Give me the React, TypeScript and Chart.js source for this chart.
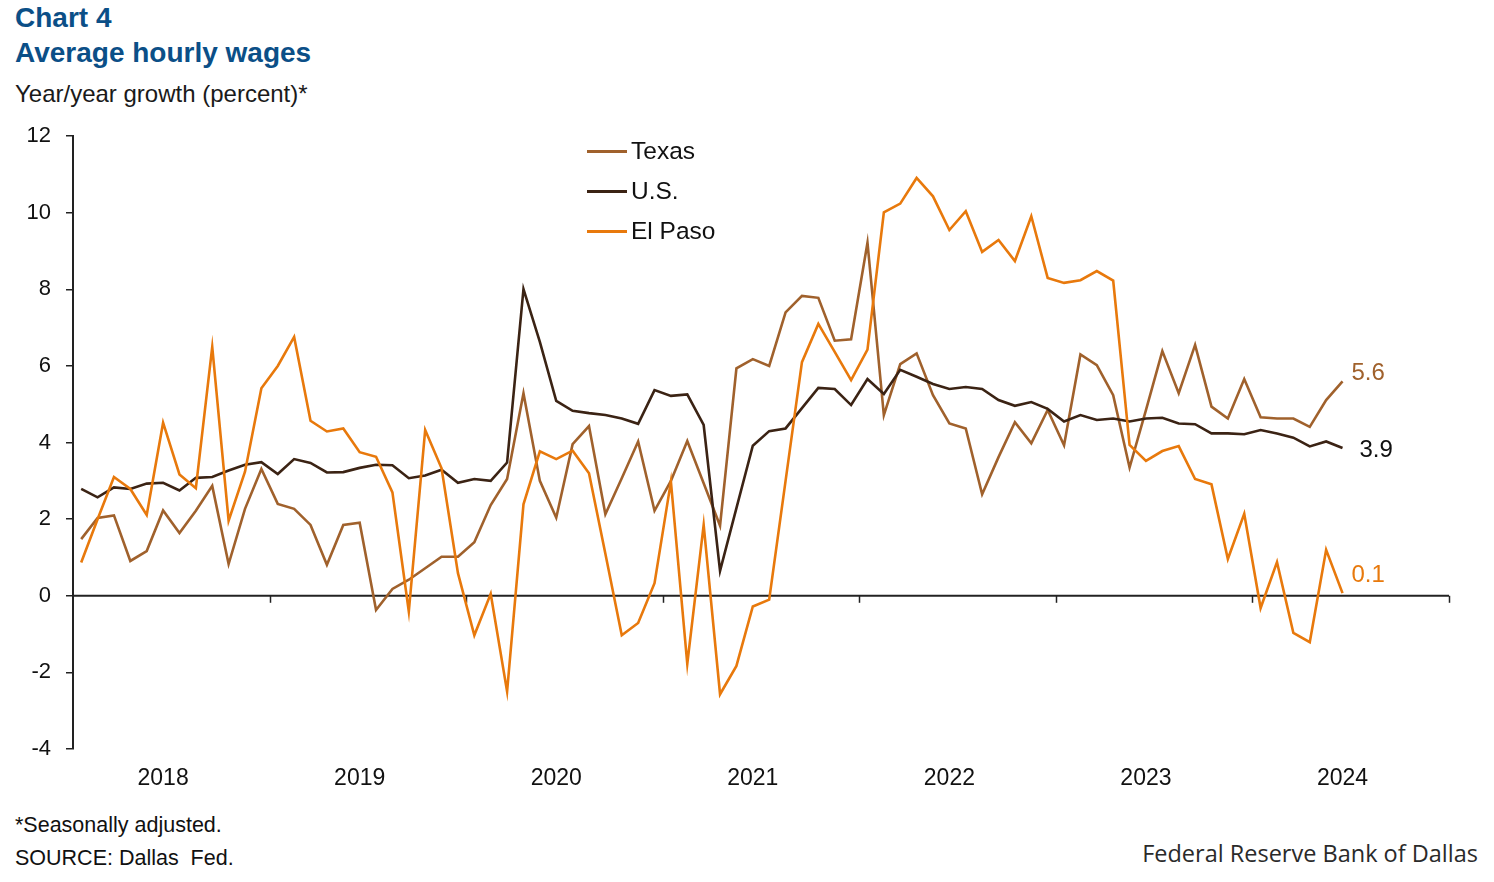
import React, { useEffect, useRef } from "react";
import { Chart, registerables } from "chart.js";

Chart.register(...registerables);

// Monthly data, Jan 2018 – Jun 2024 (year/year % growth)
const years = ["2018", "2019", "2020", "2021", "2022", "2023", "2024"];
const monthsPerYear = 12;

const texas = [
  1.48, 2.03, 2.1, 0.91, 1.17, 2.23, 1.64, 2.22, 2.87, 0.83, 2.27, 3.31,
  2.4, 2.27, 1.85, 0.81, 1.85, 1.91, -0.37, 0.18, 0.42, 0.72, 1.02, 1.02,
  1.4, 2.37, 3.05, 5.29, 3.0, 2.04, 3.96, 4.43, 2.13, 3.07, 4.03, 2.22,
  3.0, 4.04, 2.94, 1.83, 5.94, 6.18, 6.0, 7.4, 7.83, 7.78, 6.66, 6.7,
  9.22, 4.72, 6.05, 6.33, 5.24, 4.5, 4.37, 2.65, 3.62, 4.53, 3.98, 4.85,
  3.93, 6.3, 6.02, 5.24, 3.35, 4.85, 6.39, 5.29, 6.55, 4.94, 4.63, 5.66,
  4.66, 4.63, 4.63, 4.41, 5.11, 5.6,
];

const us = [
  2.79, 2.57, 2.83, 2.79, 2.93, 2.95, 2.75, 3.08, 3.1, 3.27, 3.42, 3.49,
  3.18, 3.57, 3.47, 3.22, 3.23, 3.34, 3.42, 3.41, 3.07, 3.14, 3.29, 2.95,
  3.05, 3.0, 3.48, 8.01, 6.63, 5.09, 4.83, 4.77, 4.72, 4.63, 4.49, 5.37,
  5.22, 5.26, 4.46, 0.65, 2.29, 3.92, 4.3, 4.37, 4.9, 5.43, 5.4, 4.98,
  5.66, 5.27, 5.9, 5.72, 5.53, 5.4, 5.45, 5.4, 5.11, 4.96, 5.06, 4.88,
  4.55, 4.72, 4.59, 4.63, 4.55, 4.63, 4.65, 4.5, 4.48, 4.24, 4.24, 4.22,
  4.33, 4.24, 4.13, 3.9, 4.03, 3.86,
];

const elPaso = [
  0.87, 2.0, 3.1, 2.79, 2.11, 4.52, 3.17, 2.81, 6.5, 1.96, 3.24, 5.42,
  6.0, 6.76, 4.57, 4.29, 4.37, 3.75, 3.63, 2.7, -0.41, 4.33, 3.33, 0.59,
  -1.03, 0.05, -2.5, 2.39, 3.77, 3.57, 3.79, 3.2, 1.1, -1.03, -0.71, 0.33,
  2.98, -1.78, 1.85, -2.57, -1.83, -0.28, -0.1, 3.0, 6.1, 7.1, 6.37, 5.63,
  6.43, 10.01, 10.24, 10.91, 10.43, 9.55, 10.04, 8.98, 9.29, 8.74, 9.91, 8.3,
  8.17, 8.24, 8.48, 8.23, 3.94, 3.52, 3.78, 3.91, 3.05, 2.91, 0.96, 2.14,
  -0.32, 0.88, -0.97, -1.21, 1.2, 0.07,
];

const yTicks = [-4, -2, 0, 2, 4, 6, 8, 10, 12];

const seriesNames = ["Texas", "U.S.", "El Paso"];
const seriesColors = ["#a0612c", "#3b2314", "#e8790c"];
const endLabelColors = ["#a0612c", "#111111", "#e8790c"];

const FONT = "'Liberation Sans', Arial, sans-serif";
const LABEL_POS = 5.5; // year label sits at the middle month of each year

const toPoints = (arr: number[]) => arr.map((v, i) => ({ x: i + 0.5, y: v }));

const axisPlugin = {
  id: "zeroAxis",
  beforeDatasetsDraw(chart: any) {
    const { ctx, chartArea, scales } = chart;
    const y0 = scales.y.getPixelForValue(0);
    ctx.save();
    ctx.strokeStyle = "#222222";
    ctx.lineWidth = 2;
    ctx.beginPath();
    ctx.moveTo(chartArea.left, y0);
    ctx.lineTo(chartArea.right, y0);
    ctx.stroke();
    ctx.lineWidth = 1.5;
    for (let k = 1; k <= years.length; k++) {
      const px = Math.round(scales.x.getPixelForValue(k * monthsPerYear)) + 0.5;
      ctx.beginPath();
      ctx.moveTo(px, y0);
      ctx.lineTo(px, y0 + 7);
      ctx.stroke();
    }
    ctx.restore();
  },
  afterDatasetsDraw(chart: any) {
    const { ctx, scales } = chart;
    const offsets = [
      { dx: 9, dy: -8 },
      { dx: 17, dy: 2 },
      { dx: 9, dy: -18 },
    ];
    const all = [texas, us, elPaso];
    ctx.save();
    ctx.font = `24px ${FONT}`;
    ctx.textBaseline = "middle";
    ctx.textAlign = "left";
    all.forEach((arr, si) => {
      const last = arr.length - 1;
      const px = scales.x.getPixelForValue(last + 0.5);
      const py = scales.y.getPixelForValue(arr[last]);
      ctx.fillStyle = endLabelColors[si];
      ctx.fillText(arr[last].toFixed(1), px + offsets[si].dx, py + offsets[si].dy);
    });
    ctx.restore();
  },
};

function ChartCanvas() {
  const ref = useRef<HTMLCanvasElement | null>(null);
  useEffect(() => {
    if (!ref.current) return;
    const chart = new Chart(ref.current, {
      type: "line",
      data: {
        datasets: [
          {
            label: seriesNames[0],
            data: toPoints(texas),
            borderColor: seriesColors[0],
            borderWidth: 2.6,
            pointRadius: 0,
            tension: 0,
            order: 2,
          },
          {
            label: seriesNames[1],
            data: toPoints(us),
            borderColor: seriesColors[1],
            borderWidth: 2.6,
            pointRadius: 0,
            tension: 0,
            order: 1,
          },
          {
            label: seriesNames[2],
            data: toPoints(elPaso),
            borderColor: seriesColors[2],
            borderWidth: 2.6,
            pointRadius: 0,
            tension: 0,
            order: 0,
          },
        ],
      },
      options: {
        animation: false,
        responsive: false,
        maintainAspectRatio: false,
        layout: { padding: { left: 0, right: 45, top: 13, bottom: 0 } },
        plugins: {
          legend: { display: false },
          tooltip: { enabled: false },
        },
        scales: {
          x: {
            type: "linear",
            min: 0,
            max: years.length * monthsPerYear,
            border: { display: false },
            grid: { display: false, drawTicks: false },
            afterBuildTicks: (scale: any) => {
              scale.ticks = years.map((_, i) => ({ value: i * monthsPerYear + LABEL_POS }));
            },
            afterFit: (scale: any) => {
              scale.height = 52;
            },
            ticks: {
              autoSkip: false,
              maxRotation: 0,
              padding: 16,
              color: "#111111",
              font: { family: FONT, size: 23 },
              callback: (value: any) => {
                const idx = Math.round((Number(value) - LABEL_POS) / monthsPerYear);
                return years[idx] ?? "";
              },
            },
          },
          y: {
            min: yTicks[0],
            max: yTicks[yTicks.length - 1],
            border: { display: true, color: "#222222", width: 2 },
            grid: {
              drawOnChartArea: false,
              drawTicks: true,
              tickLength: 7,
              color: "#222222",
              lineWidth: 1.5,
            },
            afterBuildTicks: (scale: any) => {
              scale.ticks = yTicks.map((v) => ({ value: v }));
            },
            afterFit: (scale: any) => {
              scale.width = 73;
            },
            ticks: {
              padding: 15,
              color: "#111111",
              font: { family: FONT, size: 22 },
            },
          },
        },
      },
      plugins: [axisPlugin],
    });
    return () => chart.destroy();
  }, []);
  return (
    <canvas
      ref={ref}
      width={1494}
      height={693}
      style={{ position: "absolute", left: 0, top: 108, width: 1494, height: 693 }}
    />
  );
}

function Legend() {
  const top0 = 151;
  const gap = 40;
  return (
    <>
      {seriesNames.map((name, i) => (
        <div
          key={name}
          style={{
            position: "absolute",
            left: 587,
            top: top0 + i * gap - 15,
            height: 30,
            display: "flex",
            alignItems: "center",
          }}
        >
          <div style={{ width: 40, height: 3, background: seriesColors[i] }} />
          <span
            style={{
              marginLeft: 4,
              font: `24.5px ${FONT}`,
              color: "#111111",
              lineHeight: "30px",
            }}
          >
            {name}
          </span>
        </div>
      ))}
    </>
  );
}

export default function App() {
  const text = (style: React.CSSProperties, content: string) => (
    <div style={{ position: "absolute", whiteSpace: "nowrap", ...style }}>{content}</div>
  );
  return (
    <div
      style={{
        position: "absolute",
        left: 0,
        top: 0,
        width: 1494,
        height: 882,
        background: "#ffffff",
        overflow: "hidden",
        fontFamily: FONT,
      }}
    >
      {text({ left: 15, top: 4, font: `bold 28px ${FONT}`, lineHeight: "28px", color: "#0b4f87" }, "Chart 4")}
      {text(
        { left: 15, top: 39, font: `bold 28px ${FONT}`, lineHeight: "28px", color: "#0b4f87" },
        "Average hourly wages"
      )}
      {text(
        { left: 15, top: 82, font: `24px ${FONT}`, lineHeight: "24px", color: "#1a1a1a" },
        "Year/year growth (percent)*"
      )}
      <ChartCanvas />
      <Legend />
      {text(
        { left: 15, top: 815, font: `21.5px ${FONT}`, lineHeight: "21.5px", color: "#111111" },
        "*Seasonally adjusted."
      )}
      {text(
        { left: 15, top: 848, font: `21.5px ${FONT}`, lineHeight: "21.5px", color: "#111111", whiteSpace: "pre" },
        "SOURCE: Dallas  Fed."
      )}
      {text(
        {
          right: 16,
          top: 842,
          font: `400 23.5px 'Open Sans', sans-serif`,
          lineHeight: "23.5px",
          color: "#2a2a2a",
        },
        "Federal Reserve Bank of Dallas"
      )}
    </div>
  );
}
